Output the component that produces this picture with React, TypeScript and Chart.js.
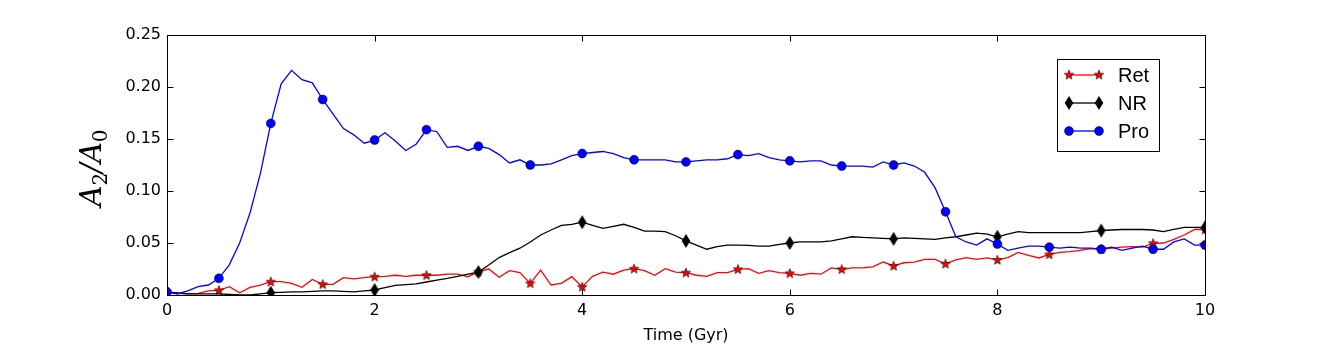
import React, { useEffect, useRef } from 'react';
import { Chart, registerables } from 'chart.js';

Chart.register(...registerables);

// Time axis (Gyr), sampled every 0.1 Gyr
const times: number[] = Array.from({ length: 101 }, (_, i) => i / 10);

const retValues: number[] = [
  0.002, 0.0015, 0.001, 0.0015, 0.004, 0.0045, 0.008, 0.0022, 0.0074, 0.0096,
  0.0128, 0.0128, 0.0112, 0.0074, 0.015, 0.0103, 0.0103, 0.0167, 0.0155, 0.0167,
  0.0176, 0.018, 0.019, 0.018, 0.019, 0.019, 0.019, 0.02, 0.02, 0.0176,
  0.0224, 0.025, 0.017, 0.0234, 0.0215, 0.0112, 0.024, 0.0096, 0.0112, 0.0176,
  0.0078, 0.018, 0.022, 0.02, 0.024, 0.0253, 0.0234, 0.019, 0.0253, 0.022,
  0.0215, 0.019, 0.018, 0.0215, 0.0215, 0.0247, 0.0253, 0.0208, 0.0234, 0.0215,
  0.0208, 0.019, 0.0208, 0.02, 0.026, 0.0247, 0.026, 0.026, 0.027, 0.0317,
  0.028, 0.031, 0.0317, 0.0343, 0.0343, 0.03, 0.0337, 0.036, 0.0343, 0.0356,
  0.0337, 0.036, 0.041, 0.038, 0.0356, 0.039, 0.041, 0.0417, 0.043, 0.0445,
  0.044, 0.045, 0.046, 0.0465, 0.046, 0.0497, 0.05, 0.0535, 0.0577, 0.063,
  0.063,
];

const nrValues: number[] = [
  0.003, 0.002, 0.001, 0.001, 0.001, 0.001, 0.0005, 0.0, 0.0, 0.001,
  0.0022, 0.0025, 0.003, 0.003, 0.0035, 0.004, 0.004, 0.0035, 0.003, 0.004,
  0.0048, 0.007, 0.0093, 0.01, 0.0106, 0.0125, 0.0144, 0.016, 0.018, 0.02,
  0.022, 0.0288, 0.036, 0.0407, 0.045, 0.051, 0.0577, 0.0625, 0.067, 0.068,
  0.07, 0.067, 0.064, 0.066, 0.068, 0.065, 0.0615, 0.0615, 0.061, 0.057,
  0.052, 0.048, 0.044, 0.0465, 0.048, 0.048, 0.0478, 0.047, 0.047, 0.0487,
  0.05, 0.051, 0.051, 0.051, 0.052, 0.054, 0.056, 0.0555, 0.055, 0.0545,
  0.054, 0.055, 0.0545, 0.054, 0.0535, 0.055, 0.056, 0.0577, 0.0595, 0.0585,
  0.056, 0.0585, 0.061, 0.06, 0.06, 0.06, 0.06, 0.06, 0.06, 0.061,
  0.062, 0.0625, 0.063, 0.063, 0.063, 0.0625, 0.061, 0.063, 0.065, 0.065,
  0.065,
];

const proValues: number[] = [
  0.003, 0.001, 0.004, 0.008, 0.0096, 0.016, 0.029, 0.05, 0.079, 0.117,
  0.165, 0.203, 0.216, 0.207, 0.204, 0.188, 0.174, 0.16, 0.154, 0.146,
  0.149, 0.156, 0.148, 0.139, 0.145, 0.159, 0.157, 0.142, 0.143, 0.139,
  0.143, 0.141, 0.135, 0.127, 0.13, 0.125, 0.125, 0.126, 0.13, 0.134,
  0.136, 0.137, 0.138, 0.136, 0.132, 0.13, 0.13, 0.13, 0.13, 0.128,
  0.128, 0.129, 0.13, 0.13, 0.131, 0.135, 0.134, 0.136, 0.132, 0.13,
  0.129, 0.128, 0.129, 0.129, 0.125, 0.124, 0.124, 0.124, 0.123, 0.128,
  0.125, 0.127, 0.124, 0.118, 0.103, 0.08, 0.056, 0.051, 0.048, 0.054,
  0.049, 0.043, 0.045, 0.047, 0.047, 0.046, 0.045, 0.046, 0.045, 0.045,
  0.044, 0.046, 0.043, 0.045, 0.047, 0.044, 0.044, 0.051, 0.054, 0.048,
  0.048,
];

const seriesLabels = ['Ret', 'NR', 'Pro'];
const markEvery = [5, 10, 5];
const xTicks = [0, 2, 4, 6, 8, 10];
const yTicks = [0, 0.05, 0.1, 0.15, 0.2, 0.25];

function makeStar(): HTMLCanvasElement {
  const c = document.createElement('canvas');
  c.width = 12; c.height = 12;
  const g = c.getContext('2d')!;
  const cx = 6, cy = 6.3, ro = 5, ri = 2.1;
  g.beginPath();
  for (let i = 0; i < 10; i++) {
    const r = i % 2 === 0 ? ro : ri;
    const a = -Math.PI / 2 + (i * Math.PI) / 5;
    const px = cx + r * Math.cos(a), py = cy + r * Math.sin(a);
    if (i === 0) g.moveTo(px, py); else g.lineTo(px, py);
  }
  g.closePath();
  g.fillStyle = '#ff0000';
  g.fill();
  g.lineWidth = 0.6;
  g.strokeStyle = '#000';
  g.stroke();
  return c;
}

function makeDiamond(): HTMLCanvasElement {
  const c = document.createElement('canvas');
  c.width = 10; c.height = 16;
  const g = c.getContext('2d')!;
  g.beginPath();
  g.moveTo(5, 1);
  g.lineTo(9.3, 8);
  g.lineTo(5, 15);
  g.lineTo(0.7, 8);
  g.closePath();
  g.fillStyle = '#000';
  g.fill();
  return c;
}

export default function App() {
  const ref = useRef<HTMLCanvasElement | null>(null);

  useEffect(() => {
    const canvas = ref.current;
    if (!canvas) return;
    const star = makeStar();
    const diamond = makeDiamond();

    const toPts = (vals: number[]) => vals.map((v, i) => ({ x: times[i], y: v }));
    const markRadius = (r: number, every: number) => (ctx: any) => (ctx.dataIndex % every === 0 ? r : 0);

    const framePlugin = {
      id: 'frameTicks',
      afterDatasetsDraw(chart: any) {
        const { ctx, chartArea: a, scales } = chart;
        ctx.save();
        ctx.strokeStyle = '#000';
        ctx.lineWidth = 1;
        const L = Math.round(a.left) + 0.5, R = Math.round(a.right) + 0.5;
        const T = Math.round(a.top) + 0.5, B = Math.round(a.bottom) + 0.5;
        ctx.strokeRect(L, T, R - L, B - T);
        const tl = 6;
        ctx.beginPath();
        xTicks.forEach((t) => {
          const x = Math.round(scales.x.getPixelForValue(t)) + 0.5;
          ctx.moveTo(x, B); ctx.lineTo(x, B - tl);
          ctx.moveTo(x, T); ctx.lineTo(x, T + tl);
        });
        yTicks.forEach((t) => {
          const y = Math.round(scales.y.getPixelForValue(t)) + 0.5;
          ctx.moveTo(L, y); ctx.lineTo(L + tl, y);
          ctx.moveTo(R, y); ctx.lineTo(R - tl, y);
        });
        ctx.stroke();
        ctx.restore();
      },
      afterDraw(chart: any) {
        const { ctx, chartArea: a } = chart;
        ctx.save();
        // y-axis label A_2 / A_0
        const big = 'italic 29px "DejaVu Serif"';
        const small = '20px "DejaVu Serif"';
        const parts: [string, string, number][] = [
          ['A', big, 0], ['2', small, 6], ['/', big, 0], ['A', big, 0], ['0', small, 6],
        ];
        let total = 0;
        parts.forEach(([t, f]) => { ctx.font = f; total += ctx.measureText(t).width; });
        const cy = (a.top + a.bottom) / 2 + 3;
        ctx.translate(101, cy);
        ctx.rotate(-Math.PI / 2);
        ctx.fillStyle = '#000';
        ctx.textBaseline = 'alphabetic';
        ctx.textAlign = 'left';
        let px = -total / 2;
        parts.forEach(([t, f, dy]) => {
          ctx.font = f;
          ctx.fillText(t, px, dy);
          px += ctx.measureText(t).width;
        });
        ctx.restore();

        // legend
        ctx.save();
        const bx = 1057.5, by = 59.5, bw = 102, bh = 92;
        ctx.fillStyle = '#fff';
        ctx.fillRect(bx, by, bw, bh);
        ctx.strokeStyle = '#000';
        ctx.lineWidth = 1;
        ctx.strokeRect(bx, by, bw, bh);
        const rows = [75, 103, 131];
        const colors = ['#ff0000', '#000000', '#0000ff'];
        const x1 = 1069, x2 = 1099;
        rows.forEach((ry, i) => {
          ctx.strokeStyle = colors[i];
          ctx.lineWidth = 1.3;
          ctx.beginPath();
          ctx.moveTo(x1, ry); ctx.lineTo(x2, ry);
          ctx.stroke();
          [x1, x2].forEach((mx) => {
            if (i === 0) ctx.drawImage(star, mx - 6, ry - 6.3);
            else if (i === 1) ctx.drawImage(diamond, mx - 5, ry - 8);
            else {
              ctx.beginPath();
              ctx.arc(mx, ry, 4.5, 0, Math.PI * 2);
              ctx.fillStyle = '#0000ff';
              ctx.fill();
              ctx.lineWidth = 0.5;
              ctx.strokeStyle = '#000';
              ctx.stroke();
            }
          });
          ctx.fillStyle = '#000';
          ctx.font = '20px "Liberation Sans"';
          ctx.textBaseline = 'middle';
          ctx.textAlign = 'left';
          ctx.fillText(seriesLabels[i], 1118, ry + 1);
        });
        ctx.restore();
      },
    };

    const tickFont = { family: 'DejaVu Sans', size: 16 };

    const chart = new Chart(canvas, {
      type: 'line',
      data: {
        datasets: [
          {
            label: seriesLabels[0],
            data: toPts(retValues),
            borderColor: '#ff0000',
            borderWidth: 1.3,
            pointStyle: star as any,
            pointRadius: markRadius(4, markEvery[0]),
            pointHoverRadius: 0,
            order: 3,
            clip: 0,
            tension: 0,
          },
          {
            label: seriesLabels[1],
            data: toPts(nrValues),
            borderColor: '#000000',
            borderWidth: 1.3,
            pointStyle: diamond as any,
            pointRadius: markRadius(4, markEvery[1]),
            pointHoverRadius: 0,
            order: 2,
            clip: 0,
            tension: 0,
          },
          {
            label: seriesLabels[2],
            data: toPts(proValues),
            borderColor: '#0000ff',
            borderWidth: 1.3,
            pointStyle: 'circle',
            pointRadius: markRadius(4.5, markEvery[2]),
            pointBackgroundColor: '#0000ff',
            pointBorderColor: '#000000',
            pointBorderWidth: 0.5,
            pointHoverRadius: 0,
            order: 1,
            clip: 0,
            tension: 0,
          },
        ],
      },
      options: {
        responsive: false,
        animation: false,
        devicePixelRatio: 1,
        events: [],
        layout: { padding: { top: 35, right: 133, bottom: 0, left: 0 } },
        plugins: {
          legend: { display: false },
          tooltip: { enabled: false },
        },
        scales: {
          x: {
            type: 'linear',
            min: 0,
            max: 10,
            afterBuildTicks: (s: any) => { s.ticks = xTicks.map((v) => ({ value: v })); },
            ticks: {
              font: tickFont,
              color: '#000',
              padding: 6,
              maxRotation: 0,
              callback: (v: any) => String(v),
            },
            grid: { display: false, drawTicks: false },
            border: { display: false },
            title: {
              display: true,
              text: 'Time (Gyr)',
              font: tickFont,
              color: '#000',
              padding: { top: 0, bottom: 10 },
            },
            afterFit: (s: any) => { s.height = 60; },
          },
          y: {
            type: 'linear',
            min: 0,
            max: 0.25,
            afterBuildTicks: (s: any) => { s.ticks = yTicks.map((v) => ({ value: v })); },
            ticks: {
              font: tickFont,
              color: '#000',
              padding: 6,
              callback: (v: any) => Number(v).toFixed(2),
            },
            grid: { display: false, drawTicks: false },
            border: { display: false },
            afterFit: (s: any) => { s.width = 167; },
          },
        },
      },
      plugins: [framePlugin],
    });

    return () => chart.destroy();
  }, []);

  return (
    <div style={{ position: 'absolute', left: 0, top: 0, width: 1338, height: 355, background: '#fff' }}>
      <canvas ref={ref} width={1338} height={355} style={{ display: 'block' }} />
    </div>
  );
}
